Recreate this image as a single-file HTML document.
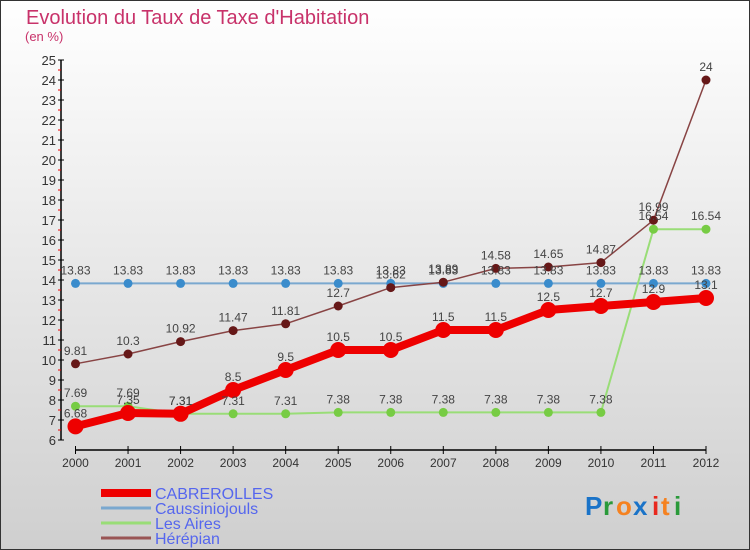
<!DOCTYPE html>
<html><head><meta charset="utf-8"><style>
body{margin:0;}
#wrap{width:750px;height:550px;position:relative;overflow:hidden;}
svg text{font-family:"Liberation Sans",sans-serif;}
</style></head><body>
<div id="wrap">
<svg id="chart" width="750" height="550" xmlns="http://www.w3.org/2000/svg">
<defs><linearGradient id="bg" x1="0" y1="0" x2="0" y2="1"><stop offset="0" stop-color="#ffffff"/><stop offset="1" stop-color="#cfcfcf"/></linearGradient></defs>
<rect x="0.5" y="0.5" width="749" height="549" fill="url(#bg)" stroke="#333"/>
<text x="26" y="24" font-size="20" fill="#c8326a">Evolution du Taux de Taxe d'Habitation</text>
<text x="25" y="41" font-size="13" fill="#c8326a">(en %)</text>
<g id="axes"></g>
<g id="series"></g>
<g id="labels"></g>
<g id="legend"></g>
<g font-size="26" font-weight="bold">
<text x="585" y="515" fill="#1a73c8">P</text><text x="603" y="515" fill="#2a9a3a">r</text><text x="616" y="515" fill="#f58220">o</text><text x="633" y="515" fill="#1a73c8">x</text><text x="652" y="515" fill="#e8281e">i</text><text x="661" y="515" fill="#f58220">t</text><text x="674" y="515" fill="#2a9a3a">i</text>
</g>
</svg>
</div>
<script>
const years=[2000,2001,2002,2003,2004,2005,2006,2007,2008,2009,2010,2011,2012];
const cabrerolles=[6.68,7.35,7.31,8.5,9.5,10.5,10.5,11.5,11.5,12.5,12.7,12.9,13.1];
const caussiniojouls=[13.83,13.83,13.83,13.83,13.83,13.83,13.83,13.83,13.83,13.83,13.83,13.83,13.83];
const lesAires=[7.69,7.69,7.31,7.31,7.31,7.38,7.38,7.38,7.38,7.38,7.38,16.54,16.54];
const herepian=[9.81,10.3,10.92,11.47,11.81,12.7,13.62,13.89,14.58,14.65,14.87,16.99,24];
const yTicks=[6,7,8,9,10,11,12,13,14,15,16,17,18,19,20,21,22,23,24,25];
const NS="http://www.w3.org/2000/svg";
const x0=75.5,x1=706,y6=440,pxPerUnit=20;
function xs(i){return x0+(x1-x0)*i/(years.length-1);}
function ys(v){return y6-(v-6)*pxPerUnit;}
function mk(tag,attrs,parent){const e=document.createElementNS(NS,tag);for(const k in attrs)e.setAttribute(k,attrs[k]);parent.appendChild(e);return e;}
const axes=document.getElementById('axes');
let a=mk('line',{x1:61,y1:ys(25),x2:61,y2:ys(6),stroke:'#000','stroke-width':1.5},axes);


yTicks.forEach(t=>{
  mk('line',{x1:58,y1:ys(t),x2:64,y2:ys(t),stroke:'#000'},axes);
  if(t<25) mk('line',{x1:58,y1:ys(t+0.5),x2:61,y2:ys(t+0.5),stroke:'#e00'},axes);
  const tx=mk('text',{x:56,y:ys(t)+5,'font-size':13,'text-anchor':'end',fill:'#333'},axes);
  tx.textContent=t;
  
  
});
a=mk('line',{x1:x0,y1:450,x2:x1,y2:450,stroke:'#000','stroke-width':1.5},axes);


years.forEach((y,i)=>{
  mk('line',{x1:xs(i),y1:446,x2:xs(i),y2:454,stroke:'#000'},axes);
  const tx=mk('text',{x:xs(i),y:467,'font-size':12,'text-anchor':'middle',fill:'#333'},axes);
  tx.textContent=y;
  
  
});
const seriesG=document.getElementById('series'),labelsG=document.getElementById('labels');
const defs=[
 {name:'caussiniojouls',vals:caussiniojouls,line:'#7aa8cf',w:2,dot:'#3a8ccc',r:4.5},
 {name:'les-aires',vals:lesAires,line:'#99dd77',w:2,dot:'#77cc44',r:4.5},
 {name:'herepian',vals:herepian,line:'#884444',w:1.5,dot:'#661818',r:4.5},
 {name:'cabrerolles',vals:cabrerolles,line:'#ee0000',w:8,dot:'#ee0000',r:8}
];
defs.forEach(d=>{
  const pts=d.vals.map((v,i)=>xs(i)+','+ys(v)).join(' ');
  const pl=mk('polyline',{points:pts,fill:'none',stroke:d.line,'stroke-width':d.w,'stroke-linejoin':'round'},seriesG);
  
  
  d.vals.forEach((v,i)=>{
    const c=mk('circle',{cx:xs(i),cy:ys(v),r:d.r,fill:d.dot},seriesG);
    
    
    const t=mk('text',{x:xs(i),y:ys(v)-9,'font-size':12,'text-anchor':'middle',fill:'#444'},labelsG);
    t.textContent=String(v);
    
    
  });
});
const lg=document.getElementById('legend');
const items=[['CABREROLLES','#ee0000',8,'cabrerolles'],['Caussiniojouls','#7aa8cf',3,'caussiniojouls'],['Les Aires','#99dd77',3,'les-aires'],['Hérépian','#995555',3,'herepian']];
items.forEach((it,k)=>{
  const y=493+k*15;
  const g=mk('g',{},lg);
  
  
  mk('line',{x1:101,y1:y,x2:151,y2:y,stroke:it[1],'stroke-width':it[2]},g);
  const t=mk('text',{x:155,y:y+6,'font-size':16,fill:'#5566ee'},g);
  t.textContent=it[0];
});
</script>
</body></html>
